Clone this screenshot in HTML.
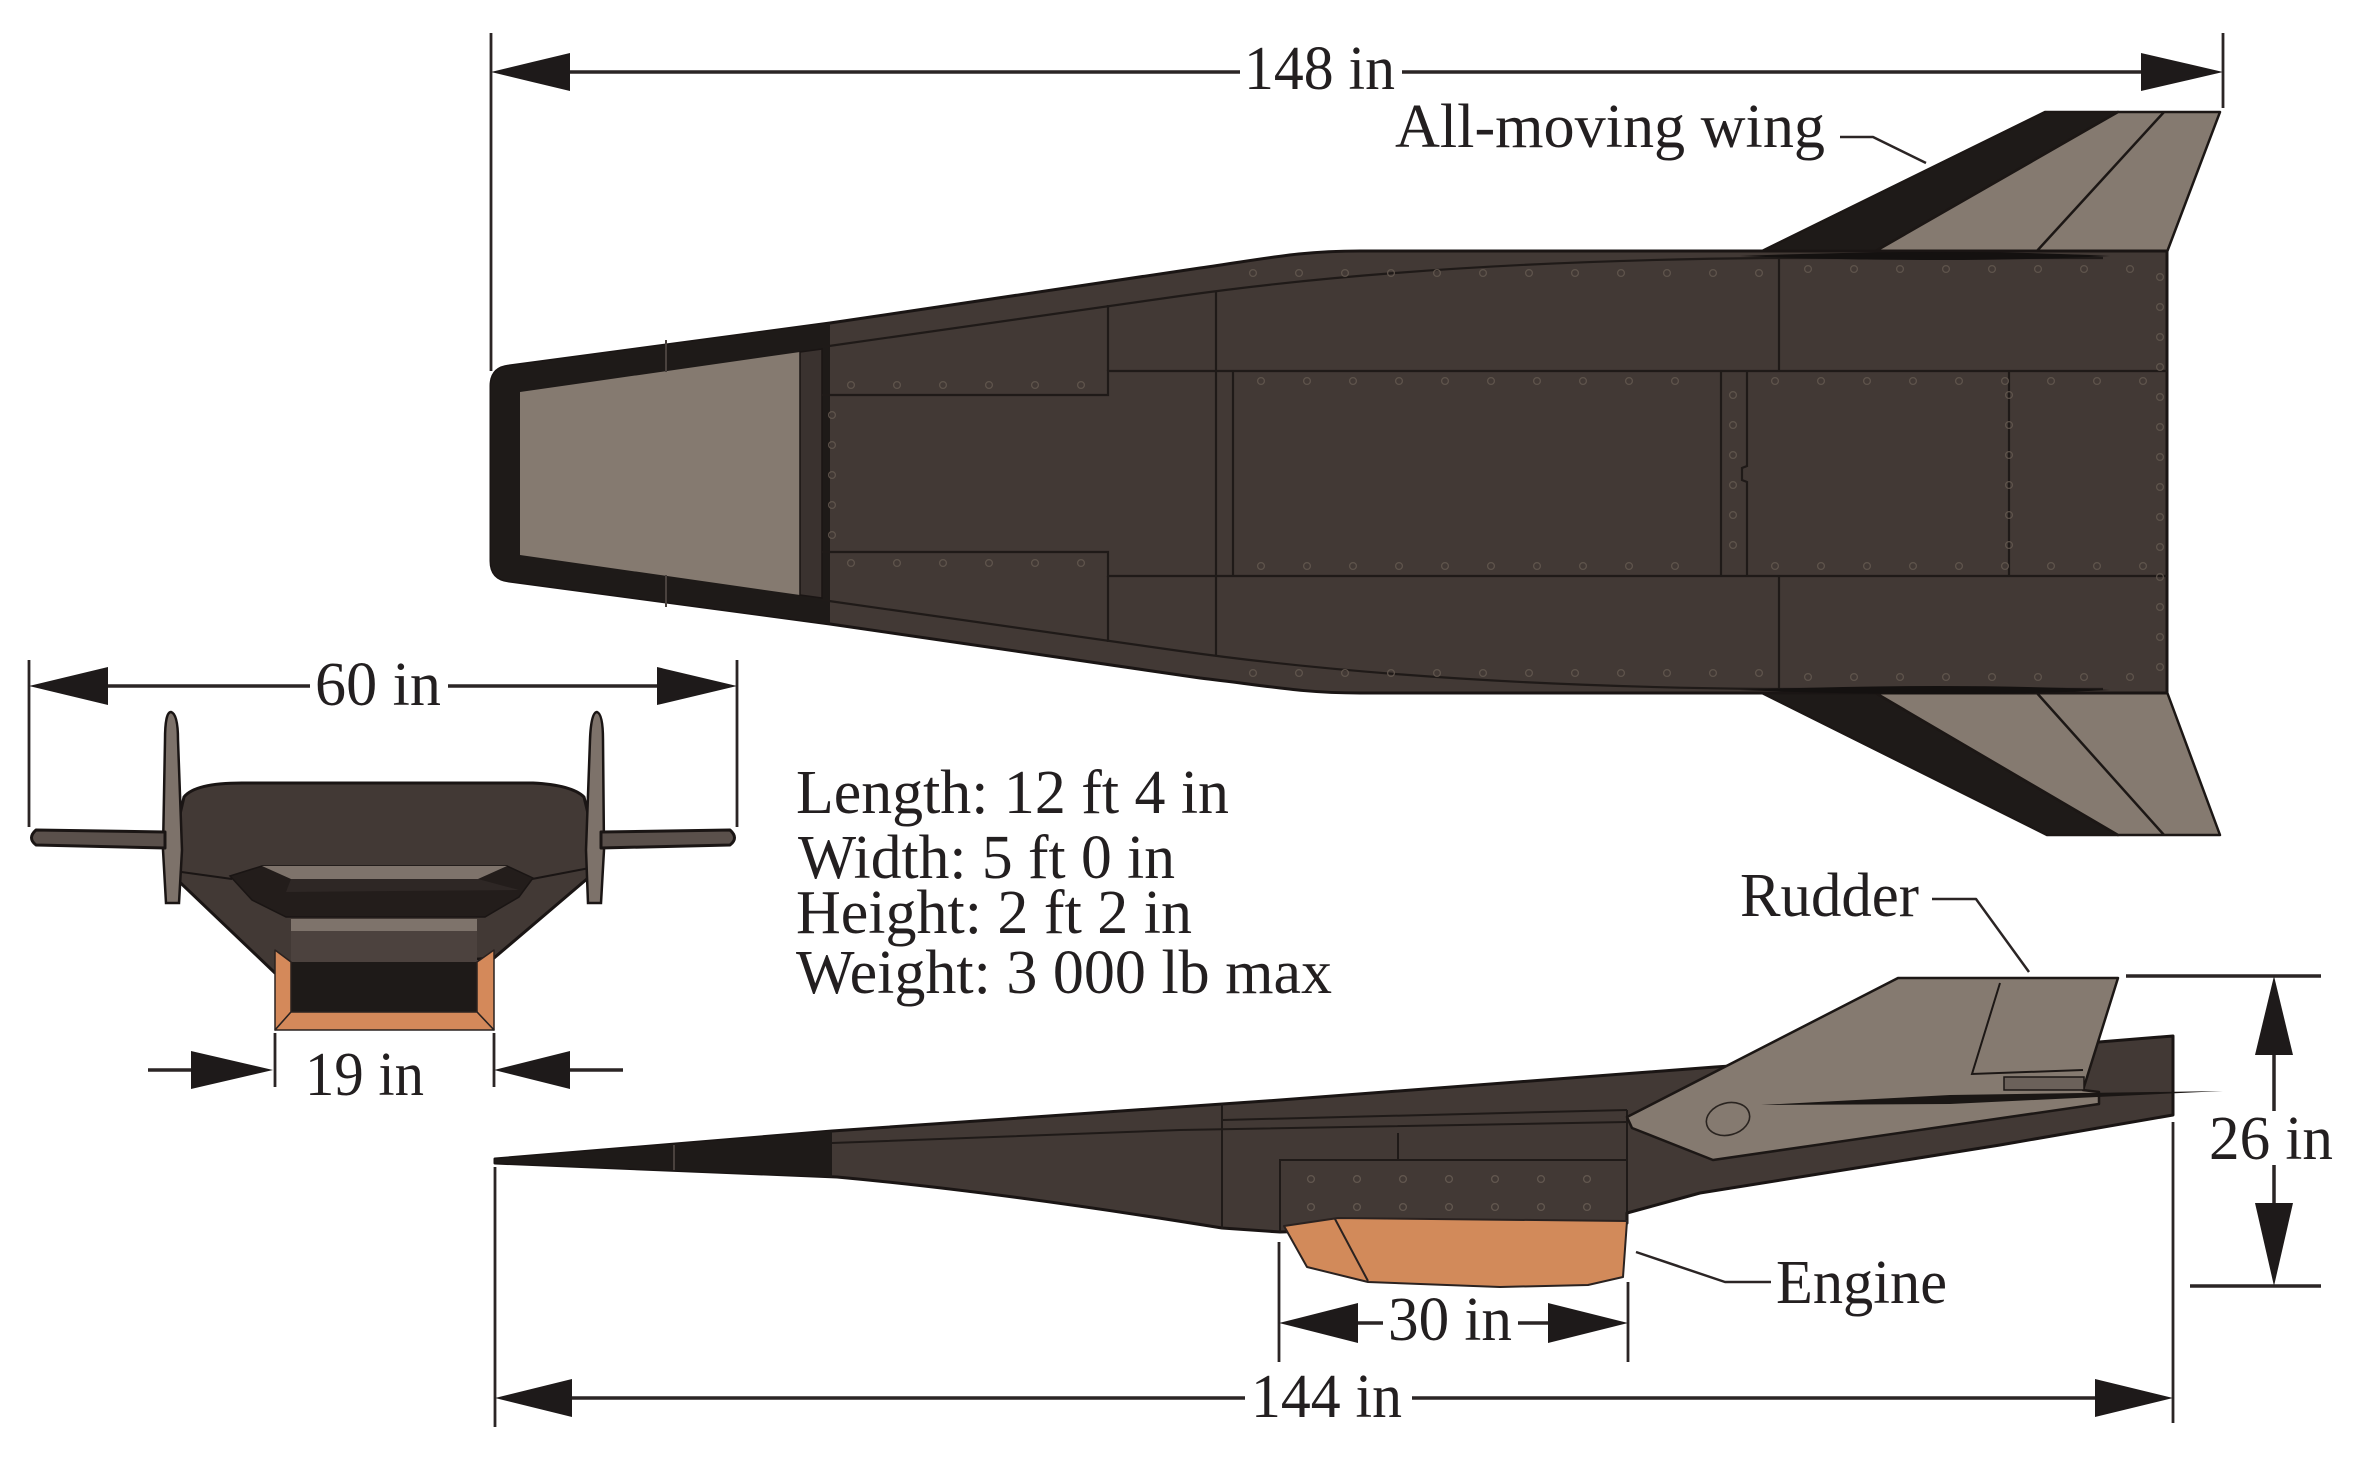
<!DOCTYPE html>
<html>
<head>
<meta charset="utf-8">
<style>
html,body{margin:0;padding:0;background:#fff;}
svg{display:block;}
text{font-family:"Liberation Serif","Times New Roman",serif;fill:#231f20;}
</style>
</head>
<body>
<svg width="2362" height="1465" viewBox="0 0 2362 1465" xmlns="http://www.w3.org/2000/svg">
<defs>
  <pattern id="rv" patternUnits="userSpaceOnUse" width="46" height="14">
    <circle cx="23" cy="7" r="3.4" fill="none" stroke="#62574f" stroke-width="1.3"/>
  </pattern>
  <pattern id="rvv" patternUnits="userSpaceOnUse" width="14" height="30">
    <circle cx="7" cy="15" r="3.4" fill="none" stroke="#62574f" stroke-width="1.3"/>
  </pattern>
</defs>

<!-- ============ TOP VIEW ============ -->
<!-- wings -->
<g stroke="#1c1715" stroke-width="2.5" stroke-linejoin="round">
  <polygon points="1760,252 2045,112 2118,112 1874,252" fill="#1e1a18"/>
  <polygon points="1874,252 2118,112 2220,112 2167,252" fill="#857a70"/>
  <line x1="2164" y1="112" x2="2036" y2="252"/>
  <polygon points="1760,692 2047,835 2118,835 1874,692" fill="#1e1a18"/>
  <polygon points="1874,692 2118,835 2220,835 2167,692" fill="#857a70"/>
  <line x1="2036" y1="692" x2="2164" y2="835"/>
</g>
<!-- fuselage -->
<path d="M491,386 Q491,368 509,366 L830,323 L1200,268 C1270,258 1300,251 1360,251 L2167,251 L2167,693 L1360,693 C1300,693 1270,686 1200,678 L830,624 L509,581 Q491,579 491,561 Z" fill="#423935" stroke="#1a1514" stroke-width="3"/>
<!-- black nose band -->
<path d="M491,386 Q491,368 509,366 L830,323 L830,624 L509,581 Q491,579 491,561 Z" fill="#1e1a18"/>
<polygon points="520,392 800,352 800,595 520,555" fill="#857a70"/>
<polygon points="800,352 822,349 822,598 800,595" fill="#3a322f" stroke="#1a1514" stroke-width="1.5"/>
<line x1="666" y1="340" x2="666" y2="372" stroke="#4a423e" stroke-width="2"/>
<line x1="666" y1="575" x2="666" y2="607" stroke="#4a423e" stroke-width="2"/>
<!-- panel lines -->
<g fill="none" stroke="#1f1a18" stroke-width="2.2">
  <path d="M822,347 L1180,296 C1350,272 1550,260 1768,258 L2103,258"/>
  <path d="M822,600 L1180,651 C1350,675 1550,687 1768,689 L2103,689"/>
  <path d="M822,395 L1108,395 L1108,371 L2167,371"/>
  <path d="M822,552 L1108,552 L1108,576 L2167,576"/>
  <line x1="1108" y1="305" x2="1108" y2="371"/>
  <line x1="1108" y1="576" x2="1108" y2="642"/>
  <line x1="1216" y1="292" x2="1216" y2="655"/>
  <line x1="1233" y1="371" x2="1233" y2="576"/>
  <line x1="1721" y1="371" x2="1721" y2="576"/>
  <path d="M1747,371 L1747,466 L1742,468 L1742,480 L1747,482 L1747,576"/>
  <line x1="1779" y1="258" x2="1779" y2="371"/>
  <line x1="1779" y1="576" x2="1779" y2="689"/>
  <line x1="2009" y1="371" x2="2009" y2="576"/>
</g>
<!-- wing root lenses -->
<path d="M1740,256 Q1950,248 2110,256 Q1950,264 1740,256 Z" fill="#141110"/>
<path d="M1740,690 Q1950,682 2110,690 Q1950,698 1740,690 Z" fill="#141110"/>
<!-- rivets -->
<g opacity="0.9">
  <g transform="translate(828,378)"><rect width="270" height="14" fill="url(#rv)"/></g>
  <g transform="translate(828,556)"><rect width="270" height="14" fill="url(#rv)"/></g>
  <g transform="translate(1238,374)"><rect width="478" height="14" fill="url(#rv)"/></g>
  <g transform="translate(1238,559)"><rect width="478" height="14" fill="url(#rv)"/></g>
  <g transform="translate(1752,374)"><rect width="410" height="14" fill="url(#rv)"/></g>
  <g transform="translate(1752,559)"><rect width="410" height="14" fill="url(#rv)"/></g>
  <g transform="translate(1230,266)"><rect width="540" height="14" fill="url(#rv)"/></g>
  <g transform="translate(1230,666)"><rect width="540" height="14" fill="url(#rv)"/></g>
  <g transform="translate(1785,262)"><rect width="380" height="14" fill="url(#rv)"/></g>
  <g transform="translate(1785,670)"><rect width="380" height="14" fill="url(#rv)"/></g>
  <g transform="translate(825,400)"><rect width="14" height="150" fill="url(#rvv)"/></g>
  <g transform="translate(2153,262)"><rect width="14" height="420" fill="url(#rvv)"/></g>
  <g transform="translate(2002,380)"><rect width="14" height="190" fill="url(#rvv)"/></g>
  <g transform="translate(1726,380)"><rect width="14" height="190" fill="url(#rvv)"/></g>
</g>

<!-- ============ FRONT VIEW ============ -->
<path d="M184,797 Q195,783 242,783 L533,783 Q572,785 584,797 L601,867 L494,958 L275,973 L167,870 Z" fill="#423935" stroke="#1a1514" stroke-width="3" stroke-linejoin="round"/>
<g stroke="#1a1514" stroke-width="2" fill="none">
  <line x1="167" y1="870" x2="232" y2="879"/>
  <line x1="532" y1="879" x2="600" y2="866"/>
</g>
<polygon points="230,876 262,866 507,866 533,878 519,897 485,917 286,917 252,900" fill="#231d1b" stroke="#1a1514" stroke-width="1.5"/>
<polygon points="262,866 507,866 478,879 291,879" fill="#7e736b"/>
<polygon points="291,879 478,879 519,890 286,892" fill="#2e2725"/>
<rect x="291" y="919" width="186" height="12" fill="#7e736b"/>
<rect x="291" y="931" width="186" height="31" fill="#4c423e"/>
<rect x="291" y="962" width="186" height="50" fill="#1e1a18"/>
<g fill="#d4895a" stroke="#2a2220" stroke-width="1.5" stroke-linejoin="round">
  <polygon points="275,950 291,962 291,1012 275,1030"/>
  <polygon points="494,950 477,962 477,1012 494,1030"/>
  <polygon points="275,1030 291,1012 477,1012 494,1030"/>
</g>
<!-- fins -->
<g fill="#7d726a" stroke="#1a1514" stroke-width="2.5">
  <path d="M171,712 Q178,714 178,740 L182,850 L179,903 L166,903 L163,850 L165,740 Q165,712 171,712 Z"/>
  <path d="M597,712 Q603,714 603,740 L604,850 L601,903 L588,903 L586,850 L590,740 Q591,712 597,712 Z"/>
</g>
<!-- wings -->
<g fill="#5a504b" stroke="#1a1514" stroke-width="3" stroke-linejoin="round">
  <path d="M36,830 L165,832 L165,848 L36,845 Q27,838 36,830 Z"/>
  <path d="M730,830 L601,832 L601,848 L730,845 Q739,838 730,830 Z"/>
</g>

<!-- ============ SIDE VIEW ============ -->
<path d="M495,1159 L832,1131 L1280,1100 L1715,1067 L2099,1042 L2173,1036 L2173,1115 L2000,1145 L1700,1193 L1627,1213 L1627,1223 L1280,1232 L1222,1228 Q1000,1192 837,1177 L495,1163 Z" fill="#423935" stroke="#1a1514" stroke-width="3" stroke-linejoin="round"/>
<path d="M495,1159 L832,1131 L832,1177 L495,1163 Z" fill="#1e1a18"/>
<line x1="674" y1="1145" x2="674" y2="1170" stroke="#4a423e" stroke-width="2"/>
<g fill="none" stroke="#1f1a18" stroke-width="2">
  <path d="M832,1143 L1180,1130 L1627,1122"/>
  <path d="M1223,1120 L1627,1110"/>
  <line x1="1222" y1="1104" x2="1222" y2="1229"/>
  <line x1="1398" y1="1133" x2="1398" y2="1160"/>
  <path d="M1280,1232 L1280,1160 L1627,1160"/>
  <line x1="1627" y1="1110" x2="1627" y2="1222"/>
</g>
<g transform="translate(1288,1172)"><rect width="330" height="14" fill="url(#rv)"/></g>
<g transform="translate(1288,1200)"><rect width="330" height="14" fill="url(#rv)"/></g>
<!-- engine -->
<polygon points="1284,1226 1307,1267 1368,1282 1500,1287 1588,1285 1623,1277 1627,1221 1338,1218" fill="#d28a5a" stroke="#2a2220" stroke-width="2" stroke-linejoin="round"/>
<line x1="1335" y1="1219" x2="1368" y2="1281" stroke="#2a2220" stroke-width="2"/>
<!-- fin -->
<polygon points="1627,1117 1898,978 2118,978 2083,1090 2099,1092 2099,1104 1713,1160 1632,1128" fill="#857a70" stroke="#1c1715" stroke-width="2.5" stroke-linejoin="round"/>
<path d="M2000,983 L1972,1074 L2083,1070" fill="none" stroke="#1c1715" stroke-width="2"/>
<rect x="2004" y="1077" width="80" height="13" fill="#6b615a" stroke="#1c1715" stroke-width="1.5"/>
<polygon points="1761,1105 1950,1095 2223,1091 1950,1104" fill="#1a1614"/>
<ellipse cx="1728" cy="1119" rx="22" ry="16" transform="rotate(-15 1728 1119)" fill="none" stroke="#2a2420" stroke-width="1.6"/>

<!-- ============ DIMENSIONS ============ -->
<g stroke="#2b2525" stroke-width="3.5" fill="none">
  <!-- 148 -->
  <line x1="570" y1="72" x2="1240" y2="72"/>
  <line x1="1402" y1="72" x2="2141" y2="72"/>
  <!-- 60 -->
  <line x1="107" y1="686" x2="310" y2="686"/>
  <line x1="448" y1="686" x2="657" y2="686"/>
  <!-- 19 -->
  <line x1="148" y1="1070" x2="195" y2="1070"/>
  <line x1="568" y1="1070" x2="623" y2="1070"/>
  <!-- 144 -->
  <line x1="572" y1="1398" x2="1245" y2="1398"/>
  <line x1="1412" y1="1398" x2="2095" y2="1398"/>
  <!-- 30 -->
  <line x1="1356" y1="1323" x2="1383" y2="1323"/>
  <line x1="1518" y1="1323" x2="1550" y2="1323"/>
  <!-- 26 -->
  <line x1="2274" y1="1053" x2="2274" y2="1111"/>
  <line x1="2274" y1="1165" x2="2274" y2="1205"/>
  <line x1="2126" y1="976" x2="2321" y2="976"/>
  <line x1="2190" y1="1286" x2="2321" y2="1286"/>
</g>
<g stroke="#2b2525" stroke-width="2.8" fill="none">
  <line x1="491" y1="33" x2="491" y2="371"/>
  <line x1="2223" y1="33" x2="2223" y2="108"/>
  <line x1="29" y1="660" x2="29" y2="827"/>
  <line x1="737" y1="660" x2="737" y2="827"/>
  <line x1="275" y1="1033" x2="275" y2="1087"/>
  <line x1="494" y1="1033" x2="494" y2="1087"/>
  <line x1="495" y1="1167" x2="495" y2="1427"/>
  <line x1="2173" y1="1122" x2="2173" y2="1423"/>
  <line x1="1279" y1="1242" x2="1279" y2="1362"/>
  <line x1="1628" y1="1282" x2="1628" y2="1362"/>
</g>
<!-- leaders -->
<g stroke="#2b2525" stroke-width="2.5" fill="none" stroke-linejoin="round">
  <path d="M1840,137 L1873,137 L1926,163"/>
  <path d="M1932,899 L1976,899 L2029,972"/>
  <path d="M1636,1252 L1725,1282 L1771,1282"/>
</g>
<!-- arrowheads -->
<g fill="#1e1a1a">
  <polygon points="491,72 570,53 570,91"/>
  <polygon points="2223,72 2141,53 2141,91"/>
  <polygon points="29,686 108,667 108,705"/>
  <polygon points="737,686 657,667 657,705"/>
  <polygon points="273,1070 191,1051 191,1089"/>
  <polygon points="494,1070 570,1051 570,1089"/>
  <polygon points="495,1398 572,1379 572,1417"/>
  <polygon points="2173,1398 2095,1379 2095,1417"/>
  <polygon points="1279,1323 1358,1303 1358,1343"/>
  <polygon points="1628,1323 1548,1303 1548,1343"/>
  <polygon points="2274,976 2255,1055 2293,1055"/>
  <polygon points="2274,1286 2255,1203 2293,1203"/>
</g>

<!-- ============ TEXT ============ -->
<g font-size="62">
  <text x="1244" y="89" textLength="151" lengthAdjust="spacingAndGlyphs">148 in</text>
  <text x="1395" y="147" textLength="430" lengthAdjust="spacingAndGlyphs">All-moving wing</text>
  <text x="315" y="705" textLength="126" lengthAdjust="spacingAndGlyphs">60 in</text>
  <text x="305" y="1095" textLength="119" lengthAdjust="spacingAndGlyphs">19 in</text>
  <text x="796" y="813" textLength="433" lengthAdjust="spacingAndGlyphs">Length: 12 ft 4 in</text>
  <text x="798" y="878" textLength="377" lengthAdjust="spacingAndGlyphs">Width: 5 ft 0 in</text>
  <text x="796" y="933" textLength="396" lengthAdjust="spacingAndGlyphs">Height: 2 ft 2 in</text>
  <text x="796" y="993" textLength="536" lengthAdjust="spacingAndGlyphs">Weight: 3 000 lb max</text>
  <text x="1740" y="916" textLength="179" lengthAdjust="spacingAndGlyphs">Rudder</text>
  <text x="2209" y="1159" textLength="124" lengthAdjust="spacingAndGlyphs">26 in</text>
  <text x="1776" y="1303" textLength="171" lengthAdjust="spacingAndGlyphs">Engine</text>
  <text x="1388" y="1340" textLength="124" lengthAdjust="spacingAndGlyphs">30 in</text>
  <text x="1251" y="1417" textLength="151" lengthAdjust="spacingAndGlyphs">144 in</text>
</g>
</svg>
</body>
</html>
